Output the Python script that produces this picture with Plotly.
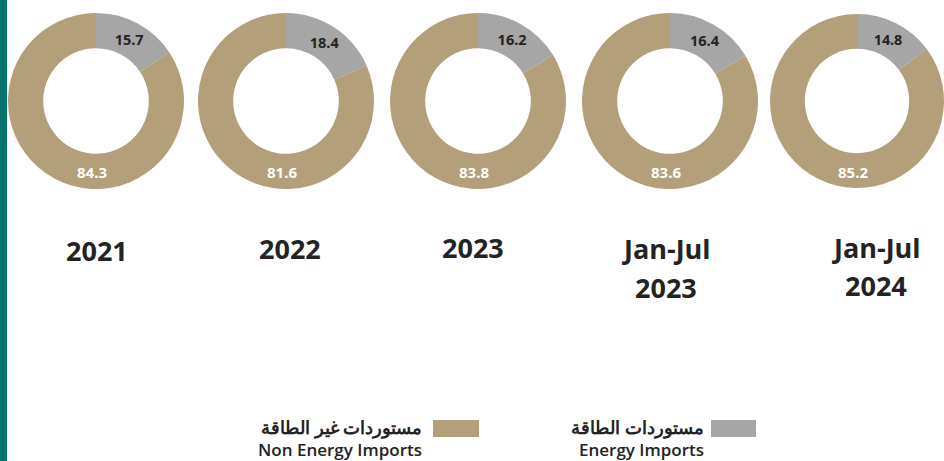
import plotly.graph_objects as go

# ---- data ----
periods = ["2021", "2022", "2023", "Jan-Jul<br>2023", "Jan-Jul<br>2024"]
energy = [15.7, 18.4, 16.2, 16.4, 14.8]
non_energy = [84.3, 81.6, 83.8, 83.6, 85.2]
legend_ar = ["مستوردات غير الطاقة", "مستوردات الطاقة"]
legend_en = ["Non Energy Imports", "Energy Imports"]

# ---- style / layout ----
W, H = 944, 461
BROWN = "#B39F7A"
GREY = "#A6A6A6"
TEAL = "#07756D"
DARK = "#232323"
centers_x = [96, 286, 478, 670, 857]
radii = [88, 88, 88, 88, 87]
cy = 101
label_x = [97, 290, 473, 666, 876]
label_y = [250, 248, 247, 268, 266]
LINE_GAP = 38

fig = go.Figure()
annotations = []
for i, p in enumerate(periods):
    cx, R = centers_x[i], radii[i]
    fig.add_trace(go.Pie(
        values=[energy[i], non_energy[i]],
        labels=["Energy Imports", "Non Energy Imports"],
        marker=dict(colors=[GREY, BROWN], line=dict(width=0)),
        hole=0.6, sort=False, direction="clockwise", rotation=0,
        texttemplate=["%{value}", ""],
        textposition="inside", insidetextorientation="horizontal",
        insidetextfont=dict(family="Noto Sans", size=15, color=DARK, weight="bold"),
        showlegend=False, hoverinfo="label+value",
        domain=dict(x=[(cx - R) / W, min((cx + R) / W, 1)],
                    y=[1 - (cy + R) / H, 1 - (cy - R) / H]),
    ))
    # non-energy label at the bottom of the ring
    annotations.append(dict(
        x=(cx - 4) / W, y=1 - (cy + 71) / H, xref="paper", yref="paper",
        xanchor="center", yanchor="middle",
        text=f"{non_energy[i]}", showarrow=False,
        font=dict(family="Noto Sans", size=15, color="white", weight="bold")))
    # period label (one annotation per line)
    lines = p.split("<br>")
    n = len(lines)
    for k, ln in enumerate(lines):
        yy = label_y[i] + (k - (n - 1) / 2) * LINE_GAP
        annotations.append(dict(
            x=label_x[i] / W, y=1 - yy / H, xref="paper", yref="paper",
            xanchor="center", yanchor="middle",
            text=ln, showarrow=False,
            font=dict(family="Open Sans", size=27, color=DARK, weight="bold")))

# legend: boxes + bilingual text
shapes = [dict(type="rect", xref="paper", yref="paper", x0=0, x1=7 / W, y0=0, y1=1,
               fillcolor=TEAL, line=dict(width=0), layer="above")]
legend_boxes = [(433, 479, BROWN), (711, 756, GREY)]
legend_text_right = [424, 706]
for j in range(2):
    x0, x1, col = legend_boxes[j]
    shapes.append(dict(type="rect", xref="paper", yref="paper",
                       x0=x0 / W, x1=x1 / W, y0=1 - 437 / H, y1=1 - 420 / H,
                       fillcolor=col, line=dict(width=0)))
    annotations.append(dict(
        x=legend_text_right[j] / W, y=1 - 427 / H, xref="paper", yref="paper",
        xanchor="right", yanchor="middle", text=legend_ar[j], showarrow=False,
        font=dict(family="Noto Sans", size=18, color=DARK, weight="bold")))
    annotations.append(dict(
        x=legend_text_right[j] / W, y=1 - 449 / H, xref="paper", yref="paper",
        xanchor="right", yanchor="middle", text=legend_en[j], showarrow=False,
        font=dict(family="Open Sans", size=17, color=DARK, weight=600)))

fig.update_layout(
    width=W, height=H, margin=dict(l=0, r=0, t=0, b=0),
    paper_bgcolor="white", plot_bgcolor="white",
    shapes=shapes, annotations=annotations,
)
fig.write_html("out.html", config={"displayModeBar": False},
               post_script="document.body.style.margin='0';document.body.style.overflow='hidden';")
